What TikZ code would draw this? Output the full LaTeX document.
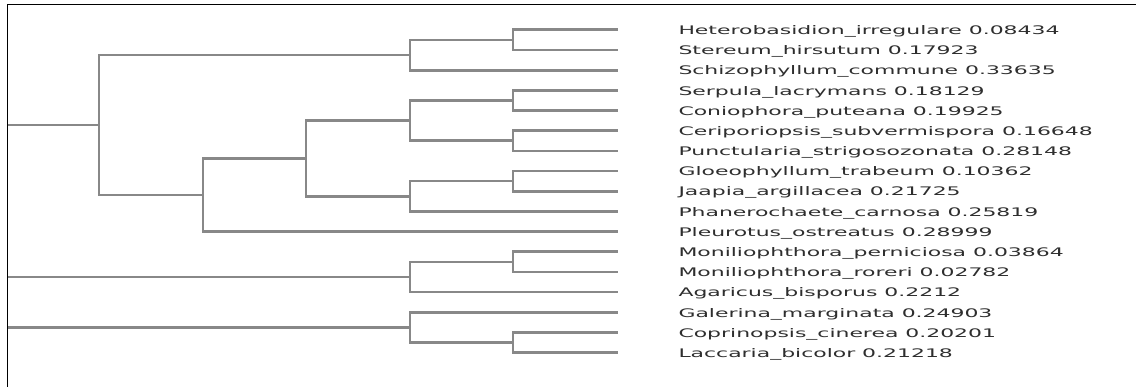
\documentclass[tikz,border=0pt]{standalone}
\usepackage{fontspec}
\setmainfont{DejaVu Sans}
\usepackage{graphicx}
\definecolor{branch}{HTML}{888888}
\definecolor{lbltext}{HTML}{2E2E2E}
\newsavebox\refbox
\newlength\refw
\begin{document}
\sbox\refbox{\fontsize{11.8}{13}\selectfont Heterobasidion\_irregulare 0.08434}%
\setlength\refw{\wd\refbox}%
\pgfmathsetmacro\sx{381/\refw}%
\begin{tikzpicture}[x=1pt,y=-1pt,
  br/.style={draw=branch,line width=2.7pt,line cap=rect},
  lbl/.style={anchor=base west,inner sep=0pt,text=lbltext,font=\fontsize{11.8}{13}\selectfont}]
\useasboundingbox (0,0) rectangle (1136,387);
\fill[white] (0,0) rectangle (1136,387);
% frame
\draw[line width=1.4pt,black] (1136,4.3) -- (7.3,4.3) -- (7.3,387);
% leaves
\foreach \i/\y in {0/29.8,1/49.98,2/70.16,3/90.34,4/110.52,5/130.7,6/150.88,7/171.06,8/191.24,9/211.42,10/231.6,11/251.78,12/271.96,13/292.14,14/312.32,15/332.5,16/352.68}{
  \coordinate (L\i) at (616.5,\y);
}
% internal nodes
\coordinate (n01) at (513,39.89);
\coordinate (n012) at (410,55.03);
\coordinate (n34) at (513,100.43);
\coordinate (n56) at (513,140.79);
\coordinate (n3456) at (410,120.61);
\coordinate (n78) at (513,181.15);
\coordinate (n789) at (410,196.29);
\coordinate (n39) at (306,158.45);
\coordinate (n310) at (203,195.03);
\coordinate (nA) at (99,125.03);
\coordinate (rA) at (8,125.03);
\coordinate (n1112) at (513,261.87);
\coordinate (nB) at (410,277.0);
\coordinate (rB) at (8,277.0);
\coordinate (n1516) at (513,342.59);
\coordinate (nC) at (410,327.46);
\coordinate (rC) at (8,327.46);
% branches
\draw[br] (n01) |- (L0); \draw[br] (n01) |- (L1);
\draw[br] (n012) |- (n01); \draw[br] (n012) |- (L2);
\draw[br] (n34) |- (L3); \draw[br] (n34) |- (L4);
\draw[br] (n56) |- (L5); \draw[br] (n56) |- (L6);
\draw[br] (n3456) |- (n34); \draw[br] (n3456) |- (n56);
\draw[br] (n78) |- (L7); \draw[br] (n78) |- (L8);
\draw[br] (n789) |- (n78); \draw[br] (n789) |- (L9);
\draw[br] (n39) |- (n3456); \draw[br] (n39) |- (n789);
\draw[br] (n310) |- (n39); \draw[br] (n310) |- (L10);
\draw[br] (nA) |- (n012); \draw[br] (nA) |- (n310);
\draw[br,line cap=butt] (rA) -- (nA);
\draw[br] (n1112) |- (L11); \draw[br] (n1112) |- (L12);
\draw[br] (nB) |- (n1112); \draw[br] (nB) |- (L13);
\draw[br,line cap=butt] (rB) -- (nB);
\draw[br] (n1516) |- (L15); \draw[br] (n1516) |- (L16);
\draw[br] (nC) |- (L14); \draw[br] (nC) |- (n1516);
\draw[br,line cap=butt] (rC) -- (nC);
% labels
\foreach \i/\y/\t in {
 0/29.8/Heterobasidion\_irregulare 0.08434,
 1/49.98/Stereum\_hirsutum 0.17923,
 2/70.16/Schizophyllum\_commune 0.33635,
 3/90.34/Serpula\_lacrymans 0.18129,
 4/110.52/Coniophora\_puteana 0.19925,
 5/130.7/Ceriporiopsis\_subvermispora 0.16648,
 6/150.88/Punctularia\_strigosozonata 0.28148,
 7/171.06/Gloeophyllum\_trabeum 0.10362,
 8/191.24/Jaapia\_argillacea 0.21725,
 9/211.42/Phanerochaete\_carnosa 0.25819,
 10/231.6/Pleurotus\_ostreatus 0.28999,
 11/251.78/Moniliophthora\_perniciosa 0.03864,
 12/271.96/Moniliophthora\_roreri 0.02782,
 13/292.14/Agaricus\_bisporus 0.2212,
 14/312.32/Galerina\_marginata 0.24903,
 15/332.5/Coprinopsis\_cinerea 0.20201,
 16/352.68/Laccaria\_bicolor 0.21218}{
  \node[lbl] (t\i) at (678.3,\y+4.7) {\scalebox{\sx}[1]{\t}};
}
\end{tikzpicture}
\end{document}
